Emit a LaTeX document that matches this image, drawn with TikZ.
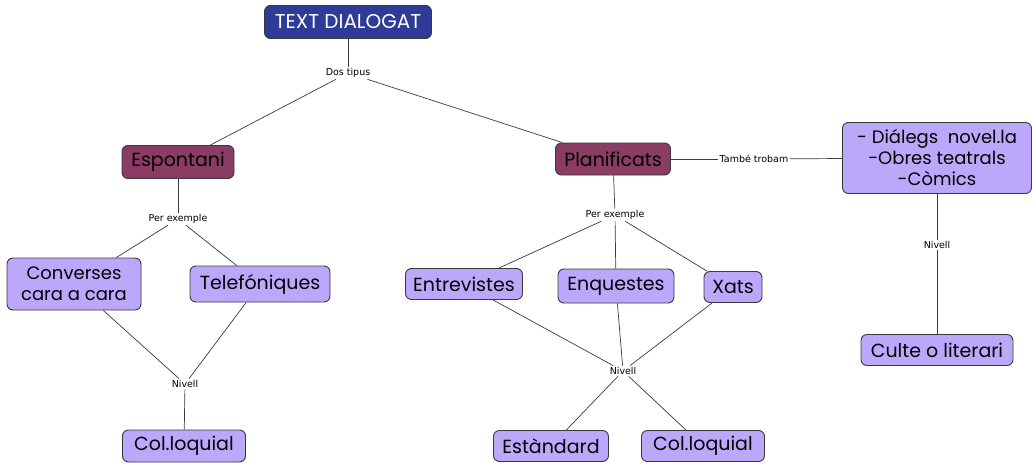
\documentclass[tikz,border=0pt]{standalone}
\usepackage{fontspec}
\setmainfont{Poppins}
\newfontfamily\lblfont{DejaVu Sans}
\definecolor{topblue}{HTML}{2E3B97}
\definecolor{plum}{HTML}{8A3C64}
\definecolor{lav}{HTML}{BBA8FB}
\definecolor{edgegray}{HTML}{3A3A3A}
\tikzset{
  box/.style={draw=edgegray, line width=0.9pt, rounded corners=6pt, inner sep=1pt, font=\fontsize{19}{20}\selectfont, text=black},
  topbox/.style={box, fill=topblue, text=white, font=\fontsize{20}{21}\selectfont},
  plumbox/.style={box, fill=plum},
  lavbox/.style={box, fill=lav},
  lbl/.style={font=\lblfont\fontsize{9.5}{10}\selectfont, inner sep=1.5pt, text=black},
  conn/.style={draw=edgegray, line width=0.7pt}
}
\begin{document}
\begin{tikzpicture}[x=1pt, y=-1pt]
\useasboundingbox (0,0) rectangle (1034,463);
% nodes
\node[topbox, minimum width=167pt, minimum height=33pt] (top) at (348,22) {TEXT DIALOGAT};
\node[lbl] (dos) at (348,73) {Dos tipus};
\node[plumbox, minimum width=112pt, minimum height=33pt] (esp) at (178,162) {Espontani};
\node[plumbox, minimum width=115pt, minimum height=32pt] (plan) at (613,159) {Planificats};
\node[lbl] (tambe) at (754,159) {També trobam};
\node[lavbox, minimum width=189pt, minimum height=71pt, align=center, font=\fontsize{18}{21}\selectfont] (dial) at (937,158) {- Diálegs\ \ novel.la\\-Obres teatrals\\-Còmics};
\node[lbl] (pe1) at (178,219) {Per exemple};
\node[lavbox, minimum width=134pt, minimum height=52pt, align=center, font=\fontsize{18}{21}\selectfont] (conv) at (74,284) {Converses\\cara a cara};
\node[lavbox, minimum width=140pt, minimum height=36pt] (tel) at (260,284) {Telefóniques};
\node[lbl] (niv1) at (185,384) {Nivell};
\node[lavbox, minimum width=123pt, minimum height=32pt] (col1) at (184,446) {Col.loquial};
\node[lbl] (pe2) at (615,215) {Per exemple};
\node[lavbox, minimum width=117pt, minimum height=31pt] (ent) at (464,284) {Entrevistes};
\node[lavbox, minimum width=116pt, minimum height=34pt] (enq) at (616,286) {Enquestes};
\node[lavbox, minimum width=58pt, minimum height=31pt] (xat) at (733,287) {Xats};
\node[lbl] (niv2) at (623,371) {Nivell};
\node[lavbox, minimum width=115pt, minimum height=31pt] (est) at (551,446) {Estàndard};
\node[lavbox, minimum width=123pt, minimum height=31pt] (col2) at (703,446) {Col.loquial};
\node[lbl] (niv3) at (937,245) {Nivell};
\node[lavbox, minimum width=152pt, minimum height=31pt] (cult) at (937,350) {Culte o literari};
% connectors
\draw[conn] (top) -- (dos);
\draw[conn] (dos) -- (esp);
\draw[conn] (dos) -- (plan);
\draw[conn] (plan) -- (tambe);
\draw[conn] (tambe) -- (dial);
\draw[conn] (esp) -- (pe1);
\draw[conn] (pe1) -- (conv);
\draw[conn] (pe1) -- (tel);
\draw[conn] (conv) -- (niv1);
\draw[conn] (tel) -- (niv1);
\draw[conn] (niv1) -- (col1);
\draw[conn] (plan) -- (pe2);
\draw[conn] (pe2) -- (ent);
\draw[conn] (pe2) -- (enq);
\draw[conn] (pe2) -- (xat);
\draw[conn] (ent) -- (niv2);
\draw[conn] (enq) -- (niv2);
\draw[conn] (xat) -- (niv2);
\draw[conn] (niv2) -- (est);
\draw[conn] (niv2) -- (col2);
\draw[conn] (dial) -- (niv3);
\draw[conn] (niv3) -- (cult);
\end{tikzpicture}
\end{document}
